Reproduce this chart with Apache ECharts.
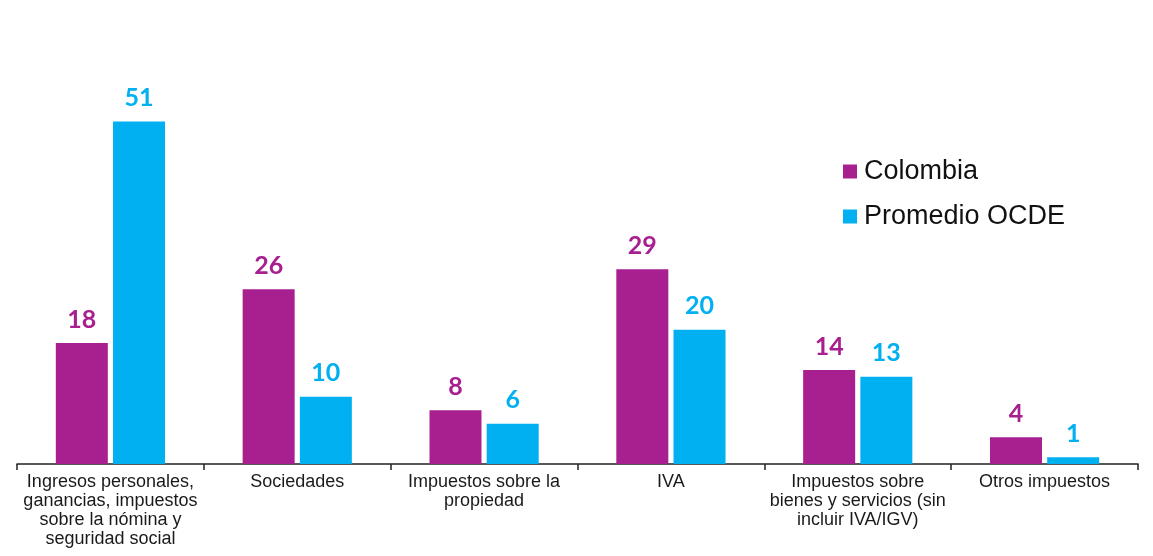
<!DOCTYPE html>
<html>
<head>
<meta charset="utf-8">
<script src="https://cdn.jsdelivr.net/npm/echarts@6/dist/echarts.min.js"></script>
<style>
  html, body { margin: 0; padding: 0; background: #ffffff; }
  #chart { width: 1153px; height: 556px; }
</style>
</head>
<body>
<div id="chart"></div>
<script>
// Tax revenue structure: Colombia vs OECD average (% of total)
const categories = [
  'Ingresos personales,\nganancias, impuestos\nsobre la nómina y\nseguridad social',
  'Sociedades',
  'Impuestos sobre la\npropiedad',
  'IVA',
  'Impuestos sobre\nbienes y servicios (sin\nincluir IVA/IGV)',
  'Otros impuestos'
];
const colombia = [18, 26, 8, 29, 14, 4];
const promedioOCDE = [51, 10, 6, 20, 13, 1];

const purple = '#A81F8F';
const blue = '#00B0F0';

const chart = echarts.init(document.getElementById('chart'), null, { renderer: 'canvas' });

function barLabel(color) {
  return {
    show: true,
    position: 'top',
    distance: 11,
    color: color,
    fontFamily: 'Lato',
    fontWeight: 'bold',
    fontSize: 25
  };
}

chart.setOption({
  animation: false,
  backgroundColor: '#ffffff',
  grid: { left: 17, right: 15, top: 61, bottom: 92, containLabel: false },
  legend: {
    orient: 'vertical',
    left: 843,
    top: 158,
    padding: 0,
    itemWidth: 14,
    itemHeight: 14,
    itemGap: 18,
    icon: 'rect',
    textStyle: { fontFamily: 'Liberation Sans', fontSize: 27, color: '#111111', padding: [0, 0, 0, 2] },
    data: ['Colombia', 'Promedio OCDE']
  },
  xAxis: {
    type: 'category',
    data: categories,
    axisLine: { lineStyle: { color: '#222222', width: 1.5 } },
    axisTick: { show: true, length: 6, lineStyle: { color: '#222222', width: 1.5 } },
    axisLabel: {
      interval: 0,
      margin: 8,
      fontFamily: 'Liberation Sans',
      fontSize: 18,
      lineHeight: 19.2,
      color: '#1a1a1a',
      align: 'center'
    }
  },
  yAxis: {
    type: 'value',
    min: 0,
    max: 60,
    show: false,
    splitLine: { show: false }
  },
  series: [
    {
      name: 'Colombia',
      type: 'bar',
      data: colombia,
      barWidth: 52,
      barGap: '10%',
      itemStyle: { color: purple },
      label: barLabel(purple)
    },
    {
      name: 'Promedio OCDE',
      type: 'bar',
      data: promedioOCDE,
      barWidth: 52,
      itemStyle: { color: blue },
      label: barLabel(blue)
    }
  ]
});
</script>
</body>
</html>
